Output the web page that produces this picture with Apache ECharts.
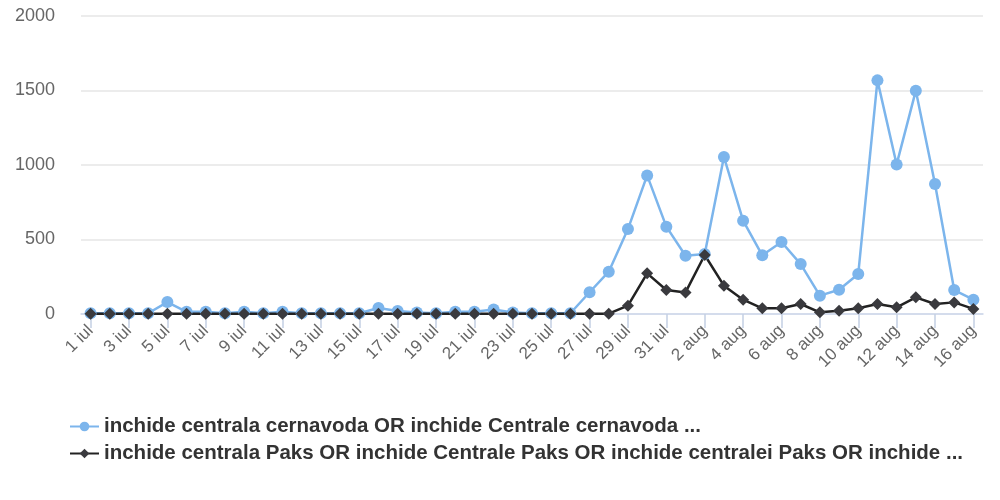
<!DOCTYPE html>
<html>
<head>
<meta charset="utf-8">
<script src="https://cdn.jsdelivr.net/npm/echarts@6/dist/echarts.min.js"></script>
<style>
  html, body { margin: 0; padding: 0; background: #fff; }
  #chart { width: 1000px; height: 500px; }
</style>
</head>
<body>
<div id="chart"></div>
<script>
// zile: 1 iul .. 16 aug
var days = []
for (var d = 1; d <= 31; d++) days.push(d + ' iul')
for (var d = 1; d <= 16; d++) days.push(d + ' aug')

var cernavodaName = 'inchide centrala cernavoda OR inchide Centrale cernavoda ...'
var paksName = 'inchide centrala Paks OR inchide Centrale Paks OR inchide centralei Paks OR inchide ...'

var cernavoda = [
  5, 5, 5, 5, 80, 15, 15, 5, 15, 5, 15, 5, 5, 5, 5, 40, 20, 10, 5, 15, 15, 30, 10, 5, 5, 5,
  146, 284, 570, 930, 586, 391, 402,
  1054, 626, 394, 483, 335, 123, 163, 268, 1568, 1004, 1499, 872, 161, 96
]
var paks = [
  2, 2, 2, 2, 2, 2, 2, 2, 2, 2, 2, 2, 2, 2, 2, 2, 2, 2, 2, 2, 2, 2, 2, 2, 2, 2,
  2, 2, 56, 273, 161, 145, 396,
  190, 96, 38, 38, 67, 11, 22, 38, 67, 45, 112, 67, 78, 34
]
var yTicks = [0, 500, 1000, 1500, 2000]

var myChart = echarts.init(document.getElementById('chart'))
myChart.setOption({
  animation: false,
  textStyle: { fontFamily: 'Liberation Sans' },
  grid: { left: 81, right: 17, top: 16, bottom: 186 },
  legend: {
    orient: 'vertical',
    left: 64,
    top: 411,
    itemWidth: 29,
    itemHeight: 12,
    itemGap: 6,
    textStyle: { fontSize: 20.5, fontWeight: 'bold', color: '#333' },
    data: [cernavodaName, paksName]
  },
  xAxis: {
    type: 'category',
    data: days,
    boundaryGap: true,
    axisLine: { show: true, lineStyle: { color: '#ccd6eb', width: 1.5 } },
    axisTick: { show: true, alignWithLabel: true, interval: 1, length: 14, lineStyle: { color: '#c4cfe4', width: 1.5 } },
    axisLabel: { interval: 1, rotate: 45, fontSize: 17, color: '#666', margin: 14 }
  },
  yAxis: {
    type: 'value',
    min: yTicks[0],
    max: yTicks[yTicks.length - 1],
    interval: 500,
    axisLine: { show: false },
    axisTick: { show: false },
    axisLabel: { fontSize: 18, color: '#666', margin: 26, formatter: function (v) { return String(v) } },
    splitLine: { lineStyle: { color: '#e6e6e6', width: 1.5 } }
  },
  series: [
    {
      name: cernavodaName,
      type: 'line',
      data: cernavoda,
      symbol: 'circle',
      symbolSize: 12,
      itemStyle: { color: '#7cb5ec' },
      lineStyle: { color: '#7cb5ec', width: 2.5 }
    },
    {
      name: paksName,
      type: 'line',
      data: paks,
      symbol: 'diamond',
      symbolSize: 12,
      itemStyle: { color: '#3a3a3e' },
      lineStyle: { color: '#222', width: 2.5 }
    }
  ]
})
</script>
</body>
</html>
